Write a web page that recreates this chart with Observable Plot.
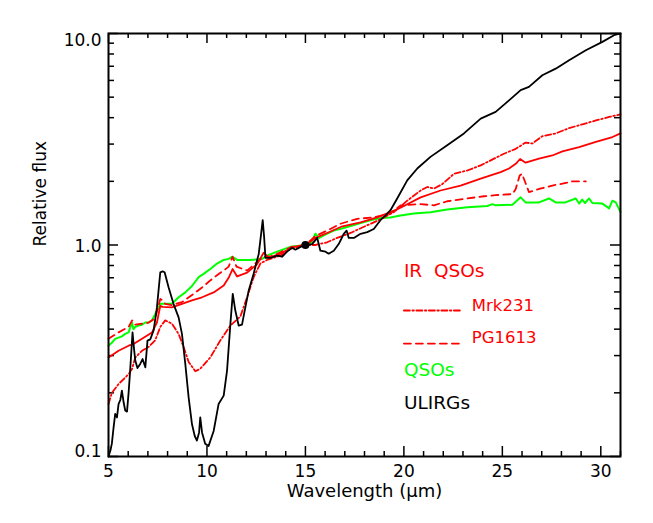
<!DOCTYPE html>
<html><head><meta charset="utf-8">
<script src="https://cdn.jsdelivr.net/npm/d3@7"></script>
<script src="https://cdn.jsdelivr.net/npm/@observablehq/plot@0.6"></script>
<style>body{margin:0;background:#fff;} svg{font-family:"DejaVu Sans";}</style>
</head><body><div id="chart"></div>
<script>
// ---- data ----
const ulirgX = [5.0,5.1,5.17,5.25,5.34,5.43,5.51,5.6,5.68,5.77,5.85,5.94,6.02,6.1,6.22,6.3,6.36,6.47,6.61,6.73,6.87,6.98,7.12,7.29,7.46,7.63,7.75,7.85,8.05,8.3,8.56,8.73,8.9,9.07,9.24,9.38,9.49,9.6,9.66,9.75,9.91,10.08,10.34,10.59,10.85,11.02,11.19,11.31,11.44,11.61,11.78,11.95,12.12,12.37,12.63,12.75,12.83,12.9,12.97,13.22,13.56,13.81,14.07,14.32,14.49,14.75,15.0,15.34,15.6,15.76,16.02,16.18,16.44,16.69,16.95,17.09,17.2,17.46,17.8,18.14,18.47,18.81,19.07,19.32,19.66,20.17,20.68,21.35,22.2,23.05,23.9,24.66,25.34,25.93,26.35,27.03,27.71,28.39,29.24,30.08,30.67,31.0];
const ulirgY = [0.10,0.107,0.115,0.135,0.159,0.153,0.177,0.185,0.205,0.18,0.165,0.163,0.2,0.255,0.386,0.32,0.284,0.262,0.274,0.289,0.264,0.353,0.358,0.394,0.507,0.743,0.75,0.743,0.631,0.527,0.455,0.38,0.274,0.19,0.142,0.125,0.119,0.13,0.153,0.13,0.115,0.112,0.132,0.177,0.194,0.255,0.424,0.587,0.49,0.416,0.42,0.507,0.61,0.731,0.908,1.13,1.31,1.1,0.87,0.87,0.89,0.88,0.93,0.97,0.95,0.98,1.0,1.01,1.08,0.94,0.93,0.91,0.94,1.01,1.13,1.17,1.08,1.08,1.13,1.15,1.19,1.31,1.38,1.46,1.66,2.02,2.30,2.61,2.96,3.37,3.96,4.26,4.83,5.40,5.59,6.35,6.82,7.48,8.33,9.13,9.82,10.0];

const qsoX = [5.0,5.17,5.34,5.51,5.68,5.85,6.02,6.19,6.27,6.36,6.53,6.7,6.87,7.04,7.21,7.46,7.63,7.88,8.22,8.56,8.9,9.24,9.58,9.83,10.17,10.51,10.85,11.1,11.3,11.53,11.8,12.2,12.5,12.8,13.05,13.56,14.24,14.6,15.0,15.3,15.51,15.7,16.0,16.44,16.9,17.29,17.8,18.3,18.81,19.32,19.83,20.5,21.35,22.2,23.22,24.24,24.49,24.66,25.51,25.93,26.18,26.86,27.37,27.71,28.2,28.73,28.9,29.05,29.2,29.4,29.57,30.08,30.42,30.59,30.76,31.0];
const qsoY = [0.334,0.345,0.36,0.365,0.37,0.38,0.386,0.43,0.4,0.41,0.416,0.42,0.43,0.43,0.44,0.49,0.527,0.527,0.527,0.566,0.597,0.64,0.705,0.73,0.77,0.817,0.85,0.86,0.88,0.85,0.85,0.85,0.855,0.86,0.89,0.93,0.98,0.99,1.0,1.03,1.13,1.08,1.12,1.17,1.2,1.23,1.27,1.31,1.34,1.35,1.38,1.41,1.43,1.47,1.51,1.53,1.56,1.54,1.55,1.68,1.59,1.59,1.66,1.59,1.59,1.66,1.57,1.64,1.58,1.66,1.58,1.57,1.49,1.62,1.59,1.43];

const irqsoX = [5.0,5.51,6.02,6.27,6.7,7.21,7.46,7.63,7.75,8.22,8.73,9.24,9.75,10.34,10.85,11.1,11.3,11.53,12.04,12.54,12.88,13.14,13.73,14.41,15.0,15.51,16.1,16.82,17.8,18.64,19.32,19.83,20.85,21.86,22.88,23.9,24.91,25.34,25.68,25.9,26.18,26.86,27.54,28.05,28.9,29.75,30.59,31.0];
const irqsoY = [0.294,0.316,0.334,0.34,0.36,0.386,0.43,0.516,0.51,0.507,0.527,0.547,0.566,0.597,0.643,0.7,0.77,0.71,0.74,0.81,0.92,0.87,0.91,0.98,1.0,1.08,1.14,1.22,1.28,1.35,1.43,1.5,1.68,1.81,1.91,2.06,2.21,2.30,2.42,2.55,2.45,2.56,2.65,2.77,2.90,3.07,3.24,3.37];

const pg1613X = [5.0,5.51,6.02,6.2,6.36,7.04,7.37,7.63,7.7,7.88,8.22,8.73,9.24,9.75,10.17,10.51,10.85,11.1,11.3,11.5,12.04,12.54,12.88,13.2,13.7,14.3,15.0,15.5,16.1,16.78,17.63,18.47,19.32,19.83,20.85,21.53,22.2,23.22,24.07,24.66,25.51,25.68,25.88,26.0,26.35,26.86,27.54,28.05,28.56,29.24];
const pg1613Y = [0.36,0.386,0.41,0.44,0.42,0.43,0.45,0.556,0.55,0.527,0.52,0.537,0.58,0.63,0.68,0.72,0.757,0.79,0.88,0.79,0.757,0.83,0.88,0.88,0.92,0.98,1.0,1.1,1.17,1.26,1.33,1.35,1.41,1.54,1.56,1.54,1.61,1.66,1.70,1.72,1.74,1.84,2.13,2.17,1.78,1.84,1.91,1.95,2.0,2.0];

const mrk231X = [5.0,5.17,5.51,6.02,6.2,6.36,6.7,7.04,7.37,7.63,7.88,8.22,8.56,8.81,9.07,9.41,9.66,10.17,10.68,11.19,11.7,12.04,12.37,12.71,13.05,13.73,14.24,15.0,15.5,16.1,16.61,17.29,17.97,18.64,19.49,20.17,20.85,21.19,21.53,21.95,22.54,23.22,23.9,24.58,25.08,25.68,26.18,26.53,27.03,27.71,28.39,29.07,29.75,30.42,31.0];
const mrk231Y = [0.177,0.2,0.22,0.245,0.26,0.294,0.316,0.33,0.354,0.41,0.44,0.425,0.38,0.33,0.28,0.253,0.26,0.294,0.354,0.416,0.46,0.567,0.705,0.817,0.85,0.89,0.96,1.0,1.0,1.03,1.08,1.14,1.22,1.3,1.43,1.62,1.81,1.88,1.85,1.94,2.17,2.25,2.38,2.56,2.70,2.85,3.05,3.02,3.27,3.37,3.57,3.72,3.88,4.03,4.15];

const refPoint = [{x: 15, y: 1.0}];

// axis ticks and labels
const xMajor = [5, 10, 15, 20, 25, 30];
const xLabels = ["5", "10", "15", "20", "25", "30"];
const xMinor = [6,7,8,9,11,12,13,14,16,17,18,19,21,22,23,24,26,27,28,29,31];
const yMajor = [0.1, 1, 10];
const yLabels = ["0.1", "1.0", "10.0"];
const yMinor = [0.2,0.3,0.4,0.5,0.6,0.7,0.8,0.9,2,3,4,5,6,7,8,9];

// legend entries
const legendText = ["IR  QSOs", "Mrk231", "PG1613", "QSOs", "ULIRGs"];
const legendColor = ["#ff0000", "#ff0000", "#ff0000", "#00ff00", "#000000"];
const legendTx = [20.0, 23.45, 23.45, 20.0, 20.0];
const legendTy = [0.75, 0.517, 0.365, 0.255, 0.178];
const legendLineX = [20.0, 22.9];
const legendLineY = [0.49, 0.342];

// ---- build tables ----
const zip = (xs, ys) => xs.map((x, i) => ({x, y: ys[i]}));
const ulirg = zip(ulirgX, ulirgY);
const qso = zip(qsoX, qsoY);
const irqso = zip(irqsoX, irqsoY);
const pg = zip(pg1613X, pg1613Y);
const mrk = zip(mrk231X, mrk231Y);
const legend = legendText.map((t, i) => ({t, x: legendTx[i], y: legendTy[i], c: legendColor[i], fs: i === 1 || i === 2 ? 16.5 : 18.5}));

const W = 653, H = 523, mL = 108, mR = 33, mT = 33, mB = 67;
const fw = W - mL - mR, fh = H - mT - mB;
const RED = "#ff0000", GREEN = "#00ff00";
const yDy = [-5, 1.5, 7];

const plot = Plot.plot({
  width: W, height: H,
  marginLeft: mL, marginRight: mR, marginTop: mT, marginBottom: mB,
  x: {domain: [5, 31], axis: null},
  y: {type: "log", domain: [0.1, 10], axis: null},
  style: {fontFamily: "DejaVu Sans", fontSize: "17px", color: "black", background: "white"},
  marks: [
    // ticks (inward, on all four sides)
    Plot.tickX(xMajor, {x: d => d, insetTop: fh - 10, stroke: "black", strokeWidth: 1.5}),
    Plot.tickX(xMajor, {x: d => d, insetBottom: fh - 10, stroke: "black", strokeWidth: 1.5}),
    Plot.tickX(xMinor, {x: d => d, insetTop: fh - 5, stroke: "black", strokeWidth: 1.5}),
    Plot.tickX(xMinor, {x: d => d, insetBottom: fh - 5, stroke: "black", strokeWidth: 1.5}),
    Plot.tickY(yMajor, {y: d => d, insetRight: fw - 10, stroke: "black", strokeWidth: 1.5}),
    Plot.tickY(yMajor, {y: d => d, insetLeft: fw - 10, stroke: "black", strokeWidth: 1.5}),
    Plot.tickY(yMinor, {y: d => d, insetRight: fw - 6, stroke: "black", strokeWidth: 1.5}),
    Plot.tickY(yMinor, {y: d => d, insetLeft: fw - 6, stroke: "black", strokeWidth: 1.5}),
    // tick labels
    Plot.text(xMajor, {x: d => d, text: (d, i) => xLabels[i], frameAnchor: "bottom", dy: 20, fontSize: 17, fill: "black"}),
    ...yMajor.map((v, i) => Plot.text([v], {y: d => d, text: () => yLabels[i], frameAnchor: "left", textAnchor: "end", dx: -7, dy: yDy[i], fontSize: 17, fill: "black"})),
    // axis titles
    Plot.text(["Wavelength (\u03bcm)"], {text: d => d, frameAnchor: "bottom", dy: 40, fontSize: 18, fill: "black"}),
    Plot.text(["Relative flux"], {text: d => d, frameAnchor: "left", dx: -68, dy: 1.5, rotate: -90, fontSize: 17, fill: "black"}),
    // data
    Plot.line(qso, {x: "x", y: "y", stroke: GREEN, strokeWidth: 2}),
    Plot.line(pg, {x: "x", y: "y", stroke: RED, strokeWidth: 1.8, strokeDasharray: "7,5"}),
    Plot.line(mrk, {x: "x", y: "y", stroke: RED, strokeWidth: 1.8, strokeDasharray: "6,2.5,1.5,2.5"}),
    Plot.line(irqso, {x: "x", y: "y", stroke: RED, strokeWidth: 1.8}),
    Plot.line(ulirg, {x: "x", y: "y", stroke: "black", strokeWidth: 1.8}),
    Plot.dot(refPoint, {x: "x", y: "y", r: 4, fill: "black"}),
    // legend
    Plot.line(legendLineX.map(x => ({x, y: legendLineY[0]})), {x: "x", y: "y", stroke: RED, strokeWidth: 1.8, strokeDasharray: "6,2.5,1.5,2.5"}),
    Plot.line(legendLineX.map(x => ({x, y: legendLineY[1]})), {x: "x", y: "y", stroke: RED, strokeWidth: 1.8, strokeDasharray: "7,5"}),
    Plot.text(legend, {x: "x", y: "y", text: "t", fill: "c", fontSize: "fs", textAnchor: "start"}),
    Plot.frame({stroke: "black", strokeWidth: 2})
  ]
});
document.getElementById("chart").appendChild(plot);
</script>
</body></html>
